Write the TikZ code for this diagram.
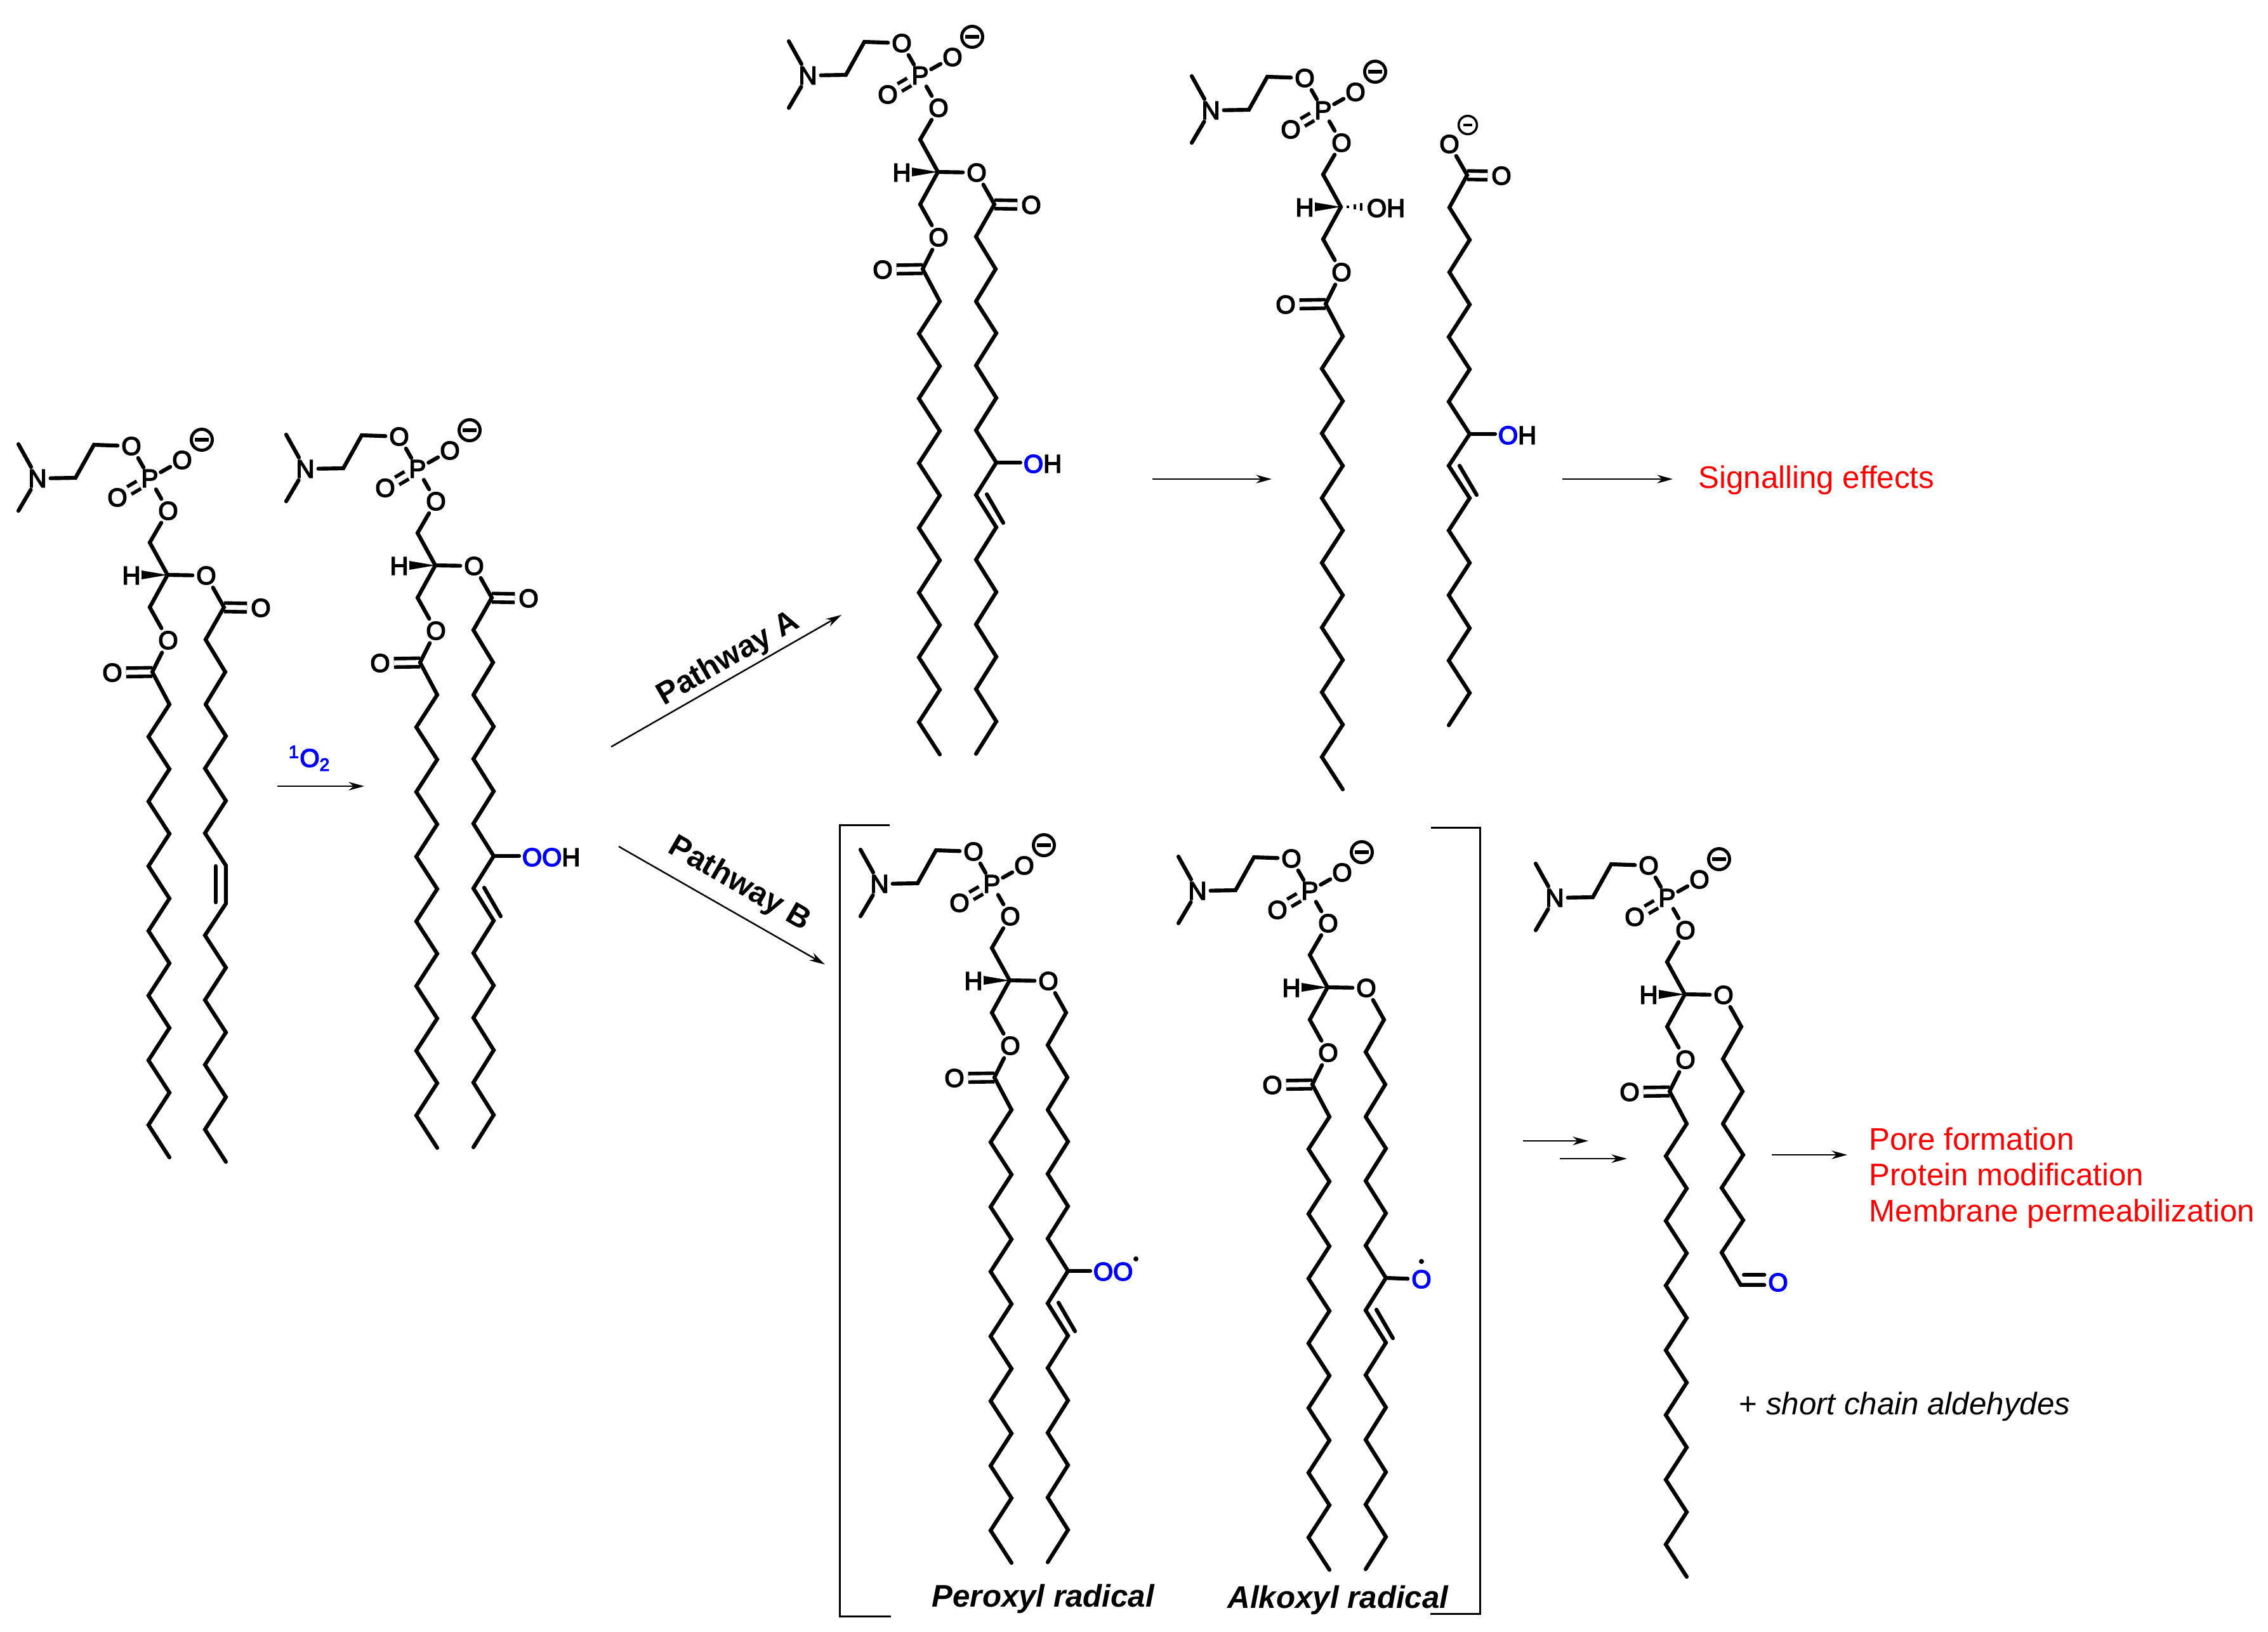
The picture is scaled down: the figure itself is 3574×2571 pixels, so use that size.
\documentclass[tikz,border=0pt]{standalone}
\usepackage{fontspec}
\setmainfont{Liberation Sans}
\newfontfamily\atomfont[FakeBold=4]{Liberation Sans}
\usetikzlibrary{arrows.meta}
\usetikzlibrary{positioning}

\tikzset{
    bond/.style={line width=1.75pt, line cap=round, line join=miter},
    dblbond/.style={line width=1.6pt, double, double distance=2.2pt},
    atom/.style={circle, inner sep=0pt, font=\fontsize{11.4}{13}\atomfont},
    sidegroup/.style={inner sep=1.2pt, font=\fontsize{11.4}{13}\atomfont},
    charge/.style={circle, draw, line width=1.4pt, minimum size=9.4pt, inner sep=0pt},
    smallcharge/.style={circle, draw, line width=1pt, minimum size=8.2pt, inner sep=0pt},
    rxnarrow/.style={line width=0.7pt, -{Stealth[length=7pt, width=3.8pt, inset=2.2pt]}},
    bracket/.style={line width=0.85pt},
    effect/.style={inner sep=0pt, anchor=base west, text=red, font=\fontsize{14}{16}\selectfont},
    radicalname/.style={inner sep=0pt, anchor=base west, font=\fontsize{14}{16}\selectfont\bfseries\itshape},
    pathname/.style={inner sep=0pt, font=\fontsize{14}{16}\selectfont\bfseries}
}

% choline phosphate, glycerol and the saturated chain
\newcommand{\headgroup}{
    \coordinate (C) at (0,0);
    \node[atom] (N) at (-205,152) {N};
    \node[atom] (P) at (-28,152) {P};
    \node[atom] (Otop) at (-57,203) {O};
    \node[atom] (Oneg) at (23,181) {O};
    \node[atom] (Odbl) at (-79,122) {O};
    \node[atom] (Olow) at (1,101) {O};
    \node[charge] (minus) at (54,213) {\rule{6pt}{1.5pt}};
    \node[atom] (H) at (-57,-1) {H};
    \node[atom] (Oester) at (1,-103) {O};
    \node[atom] (Ocarb) at (-87,-154) {O};
    \draw[bond] (N) -- (-235,206);
    \draw[bond] (N) -- (-235,101);
    \draw[bond] (N) -- (-145,153) -- (-116,205) -- (Otop);
    \draw[bond] (Otop) -- (P);
    \draw[bond] (P) -- (Oneg);
    \draw[dblbond] (P) -- (Odbl);
    \draw[bond] (P) -- (Olow);
    \draw[bond] (Olow) -- (-28,51) -- (C) -- (-28,-51) -- (Oester);
    \fill (C) -- (-41,7) -- (-41,-7) -- cycle;
    \draw[dblbond] (-24,-153) -- (Ocarb);
    \draw[bond] (Oester) -- (-24,-153) -- (3,-204) -- (-30,-255) -- (3,-306) -- (-30,-357)
        -- (3,-408) -- (-30,-459) -- (3,-510) -- (-30,-561) -- (3,-612) -- (-30,-663)
        -- (3,-714) -- (-30,-765) -- (3,-816) -- (-30,-867) -- (3,-918);
}
% first bonds of the second chain
\newcommand{\secondchain}{
    \node[atom] (Oright) at (61,-1) {O};
    \draw[bond] (C) -- (Oright);
    \draw[bond] (Oright) -- (89,-51) -- (60,-102) -- (91,-153) -- (60,-204);
}
\newcommand{\carbonyl}{
    \node[atom] (Oacyl) at (147,-52) {O};
    \draw[dblbond] (89,-51) -- (Oacyl);
}
% oxidised part of the second chain
\newcommand{\oxidisedtail}{
    \draw[bond] (60,-204) -- (92,-254) -- (60,-305) -- (92,-356) -- (60,-407) -- (92,-458)
        -- (60,-509) -- (92,-560) -- (60,-611) -- (92,-662) -- (60,-713) -- (92,-764)
        -- (60,-815) -- (92,-866) -- (60,-917);
    \draw[bond] (77,-508) -- (103,-553);
}

\begin{document}
\begin{tikzpicture}[x=0.01cm, y=0.01cm]
    \useasboundingbox (0,0) rectangle (3574,-2571);

    % starting lipid
    \begin{scope}[shift={(264,-906)}, name prefix=lipid-]
        \carbonyl
        \headgroup
        \secondchain
        \draw[bond] (60,-204) -- (92,-254) -- (59,-305) -- (92,-356) -- (59,-407) -- (92,-458)
            -- (92,-518) -- (59,-568) -- (92,-619) -- (59,-670) -- (92,-721) -- (59,-772)
            -- (92,-823) -- (59,-874) -- (92,-925);
        \draw[bond] (76,-459) -- (76,-516);
    \end{scope}

    % hydroperoxide
    \begin{scope}[shift={(686,-891)}, name prefix=hydro-]
        \carbonyl
        \headgroup
        \secondchain
        \oxidisedtail
        \node[sidegroup, anchor=west] (OOH) at (132,-460) {\textcolor{blue}{OO}H};
        \draw[bond] (92,-458) -- (OOH.west |- 92,-458);
    \end{scope}

    % pathway A, alcohol
    \begin{scope}[shift={(1478,-271)}, name prefix=alcohol-]
        \carbonyl
        \headgroup
        \secondchain
        \oxidisedtail
        \node[sidegroup, anchor=west] (OH) at (130,-460) {\textcolor{blue}{O}H};
        \draw[bond] (92,-458) -- (OH.west |- 92,-458);
    \end{scope}

    % lysolipid
    \begin{scope}[shift={(2113,-326)}, name prefix=lyso-]
        \headgroup
        \node[sidegroup] (OHlyso) at (71,-2) {OH};
        \draw[line width=1.2pt] (11,2) -- (11,-2);
        \draw[line width=1.4pt] (22,4) -- (22,-4);
        \draw[line width=1.4pt] (32,6) -- (32,-6);
    \end{scope}

    % free acid
    \node[atom] (Oacid) at (2284,-227) {O};
    \node[smallcharge] (minusacid) at (2313,-197) {\rule{4pt}{1pt}};
    \node[atom] (Ocooh) at (2366,-277) {O};
    \node[sidegroup, anchor=west] (OHacid) at (2356,-686) {\textcolor{blue}{O}H};
    \draw[dblbond] (2312,-276) -- (Ocooh);
    \draw[bond] (Oacid) -- (2312,-276) -- (2284,-327) -- (2316,-378) -- (2284,-429) -- (2316,-480)
        -- (2283,-531) -- (2316,-582) -- (2283,-633) -- (2316,-684) -- (2283,-734) -- (2316,-785)
        -- (2283,-836) -- (2316,-887) -- (2283,-938) -- (2316,-990) -- (2283,-1041) -- (2316,-1092)
        -- (2283,-1143);
    \draw[bond] (2300,-734) -- (2327,-780);
    \draw[bond] (2316,-684) -- (OHacid.west |- 2316,-684);

    % peroxyl radical
    \begin{scope}[shift={(1591,-1545)}, name prefix=peroxyl-]
        \headgroup
        \secondchain
        \oxidisedtail
        \node[sidegroup, anchor=west] (OO) at (127,-459) {\textcolor{blue}{OO}};
        \draw[bond] (92,-458) -- (OO.west |- 92,-458);
        \fill (199,-439) circle (4);
    \end{scope}

    % alkoxyl radical
    \begin{scope}[shift={(2092,-1556)}, name prefix=alkoxyl-]
        \headgroup
        \secondchain
        \oxidisedtail
        \node[atom, text=blue] (Oalk) at (148,-460) {O};
        \draw[bond] (92,-458) -- (Oalk);
        \fill (148,-432) circle (4);
    \end{scope}

    % aldehyde
    \begin{scope}[shift={(2655,-1567)}, name prefix=aldehyde-]
        \headgroup
        \secondchain
        \node[atom, text=blue] (Oald) at (147,-454) {O};
        \draw[bond] (60,-204) -- (92,-253) -- (58,-305) -- (92,-356) -- (58,-407) -- (88,-458)
            -- (Oald.west |- 88,-458);
        \draw[bond] (93,-442) -- (Oald.west |- 93,-442);
    \end{scope}

    % brackets
    \draw[bracket] (1402,-1300) -- (1323,-1300) -- (1323,-2547) -- (1404,-2547);
    \draw[bracket] (2255,-1304) -- (2332,-1304) -- (2332,-2543) -- (2254,-2543);

    % arrows
    \coordinate (oxygenstart) at (437,-1239);
    \coordinate (oxygenend) at (574,-1239);
    \coordinate (pathAstart) at (963,-1177);
    \coordinate (pathAend) at (1326,-969);
    \coordinate (pathBstart) at (975,-1334);
    \coordinate (pathBend) at (1300,-1520);
    \coordinate (cleavestart) at (1816,-755);
    \coordinate (cleaveend) at (2004,-755);
    \coordinate (signalstart) at (2462,-755);
    \coordinate (signalend) at (2636,-755);
    \coordinate (stepAstart) at (2400,-1798);
    \coordinate (stepAend) at (2503,-1798);
    \coordinate (stepBstart) at (2458,-1826);
    \coordinate (stepBend) at (2564,-1826);
    \coordinate (poreStart) at (2792,-1820);
    \coordinate (poreEnd) at (2911,-1820);
    \draw[rxnarrow] (oxygenstart) -- (oxygenend);
    \draw[rxnarrow] (pathAstart) -- (pathAend);
    \draw[rxnarrow] (pathBstart) -- (pathBend);
    \draw[rxnarrow] (cleavestart) -- (cleaveend);
    \draw[rxnarrow] (signalstart) -- (signalend);
    \draw[rxnarrow] (stepAstart) -- (stepAend);
    \draw[rxnarrow] (stepBstart) -- (stepBend);
    \draw[rxnarrow, line width=0.8pt] (poreStart) -- (poreEnd);

    % labels
    \node[atom, rectangle, text=blue] (oxygen) at (488,-1195) {\textsuperscript{1}O\textsubscript{2}};
    \node[pathname, rotate=30] (pathA) at (1148,-1039) {Pathway A};
    \node[pathname, rotate=-30] (pathB) at (1165,-1394) {Pathway B};
    \node[effect] (signal) at (2676,-769) {Signalling effects};
    \node[effect] (pore) at (2945,-1812) {Pore formation};
    \node[effect] (protein) at (2945,-1868) {Protein modification};
    \node[effect] (membrane) at (2945,-1925) {Membrane permeabilization};
    \node[radicalname] (peroxyl) at (1468,-2532) {Peroxyl radical};
    \node[radicalname] (alkoxyl) at (1934,-2534) {Alkoxyl radical};
    \node[inner sep=0pt, anchor=base west, font=\fontsize{14}{16}\selectfont] (aldehydes) at (2740,-2229) {+ \itshape short chain aldehydes};
\end{tikzpicture}
\end{document}
